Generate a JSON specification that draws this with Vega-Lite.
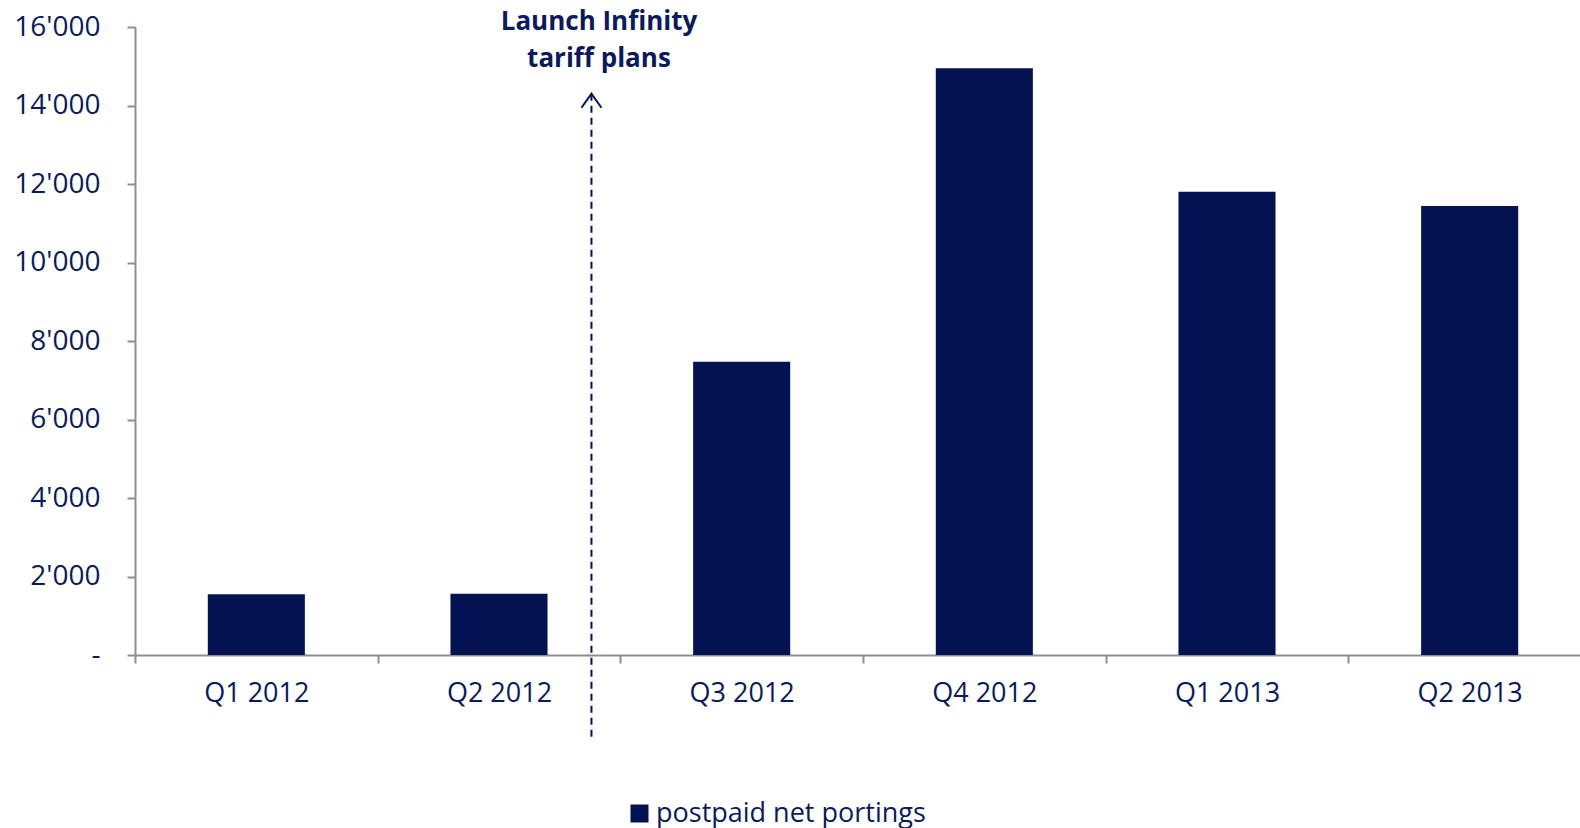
{
  "$schema": "https://vega.github.io/schema/vega-lite/v6.json",
  "width": 1445,
  "height": 628,
  "autosize": {"type": "none"},
  "padding": {"left": 135, "top": 27, "right": 0, "bottom": 173},
  "background": "white",
  "config": {
    "view": {"stroke": null},
    "font": "Open Sans",
    "axis": {
      "grid": false,
      "domainColor": "#8c8c9a",
      "domainWidth": 2,
      "tickColor": "#8c8c9a",
      "tickWidth": 2,
      "tickSize": 8,
      "labelFont": "Open Sans",
      "labelFontSize": 27,
      "labelColor": "#0b1a5a",
      "title": null
    }
  },
  "layer": [
    {
      "data": {
        "values": [
          {"quarter": "Q1 2012", "portings": 1550, "series": "postpaid net portings"},
          {"quarter": "Q2 2012", "portings": 1560, "series": "postpaid net portings"},
          {"quarter": "Q3 2012", "portings": 7470, "series": "postpaid net portings"},
          {"quarter": "Q4 2012", "portings": 14950, "series": "postpaid net portings"},
          {"quarter": "Q1 2013", "portings": 11800, "series": "postpaid net portings"},
          {"quarter": "Q2 2013", "portings": 11440, "series": "postpaid net portings"}
        ]
      },
      "mark": {"type": "bar", "width": {"band": 0.4}},
      "encoding": {
        "x": {
          "field": "quarter",
          "type": "nominal",
          "sort": null,
          "scale": {
            "domain": ["Q1 2012", "Q2 2012", "Q3 2012", "Q4 2012", "Q1 2013", "Q2 2013"],
            "range": [0, 1456],
            "paddingInner": 0,
            "paddingOuter": 0
          },
          "axis": {"labelAngle": 0, "tickBand": "extent", "labelPadding": 17, "labelBaseline": "top"}
        },
        "y": {
          "field": "portings",
          "type": "quantitative",
          "scale": {"domain": [0, 16000], "nice": false},
          "axis": {
            "values": [0, 2000, 4000, 6000, 8000, 10000, 12000, 14000, 16000],
            "labelPadding": 27,
            "labelFontSize": 28,
            "labelExpr": "datum.value == 0 ? '-\u00a0\u00a0' : replace(format(datum.value, ','), ',', \"'\")"
          }
        },
        "color": {
          "field": "series",
          "type": "nominal",
          "scale": {"range": ["#031352"]},
          "legend": {
            "title": null,
            "orient": "none",
            "legendX": 491,
            "legendY": 773,
            "padding": 0,
            "symbolType": "square",
            "symbolSize": 324,
            "symbolStrokeWidth": 0,
            "labelFontSize": 27,
            "labelFont": "Open Sans",
            "labelColor": "#0b1a5a",
            "labelOffset": 3,
            "labelLimit": 0
          }
        }
      }
    },
    {
      "data": {"values": [{"quarter": "Q2 2012"}]},
      "layer": [
        {
          "mark": {"type": "rule", "color": "#031352", "strokeWidth": 2, "strokeDash": [7, 5]},
          "encoding": {
            "x": {"field": "quarter", "type": "nominal", "bandPosition": 0.881},
            "y": {"datum": 14300},
            "y2": {"datum": -2110}
          }
        },
        {
          "mark": {"type": "point", "shape": "M-1,1.4L0,0L1,1.4", "filled": false, "size": 400, "color": "#031352", "strokeWidth": 2, "opacity": 1},
          "encoding": {
            "x": {"field": "quarter", "type": "nominal", "bandPosition": 0.881},
            "y": {"datum": 14300}
          }
        },
        {
          "mark": {
            "type": "text",
            "text": ["Launch Infinity", "tariff plans"],
            "font": "Open Sans",
            "fontSize": 26,
            "fontWeight": "bold",
            "color": "#0b1a5a",
            "align": "center",
            "baseline": "middle",
            "lineHeight": 36.5
          },
          "encoding": {
            "x": {"field": "quarter", "type": "nominal", "bandPosition": 0.912},
            "y": {"datum": 16127}
          }
        }
      ]
    }
  ]
}
